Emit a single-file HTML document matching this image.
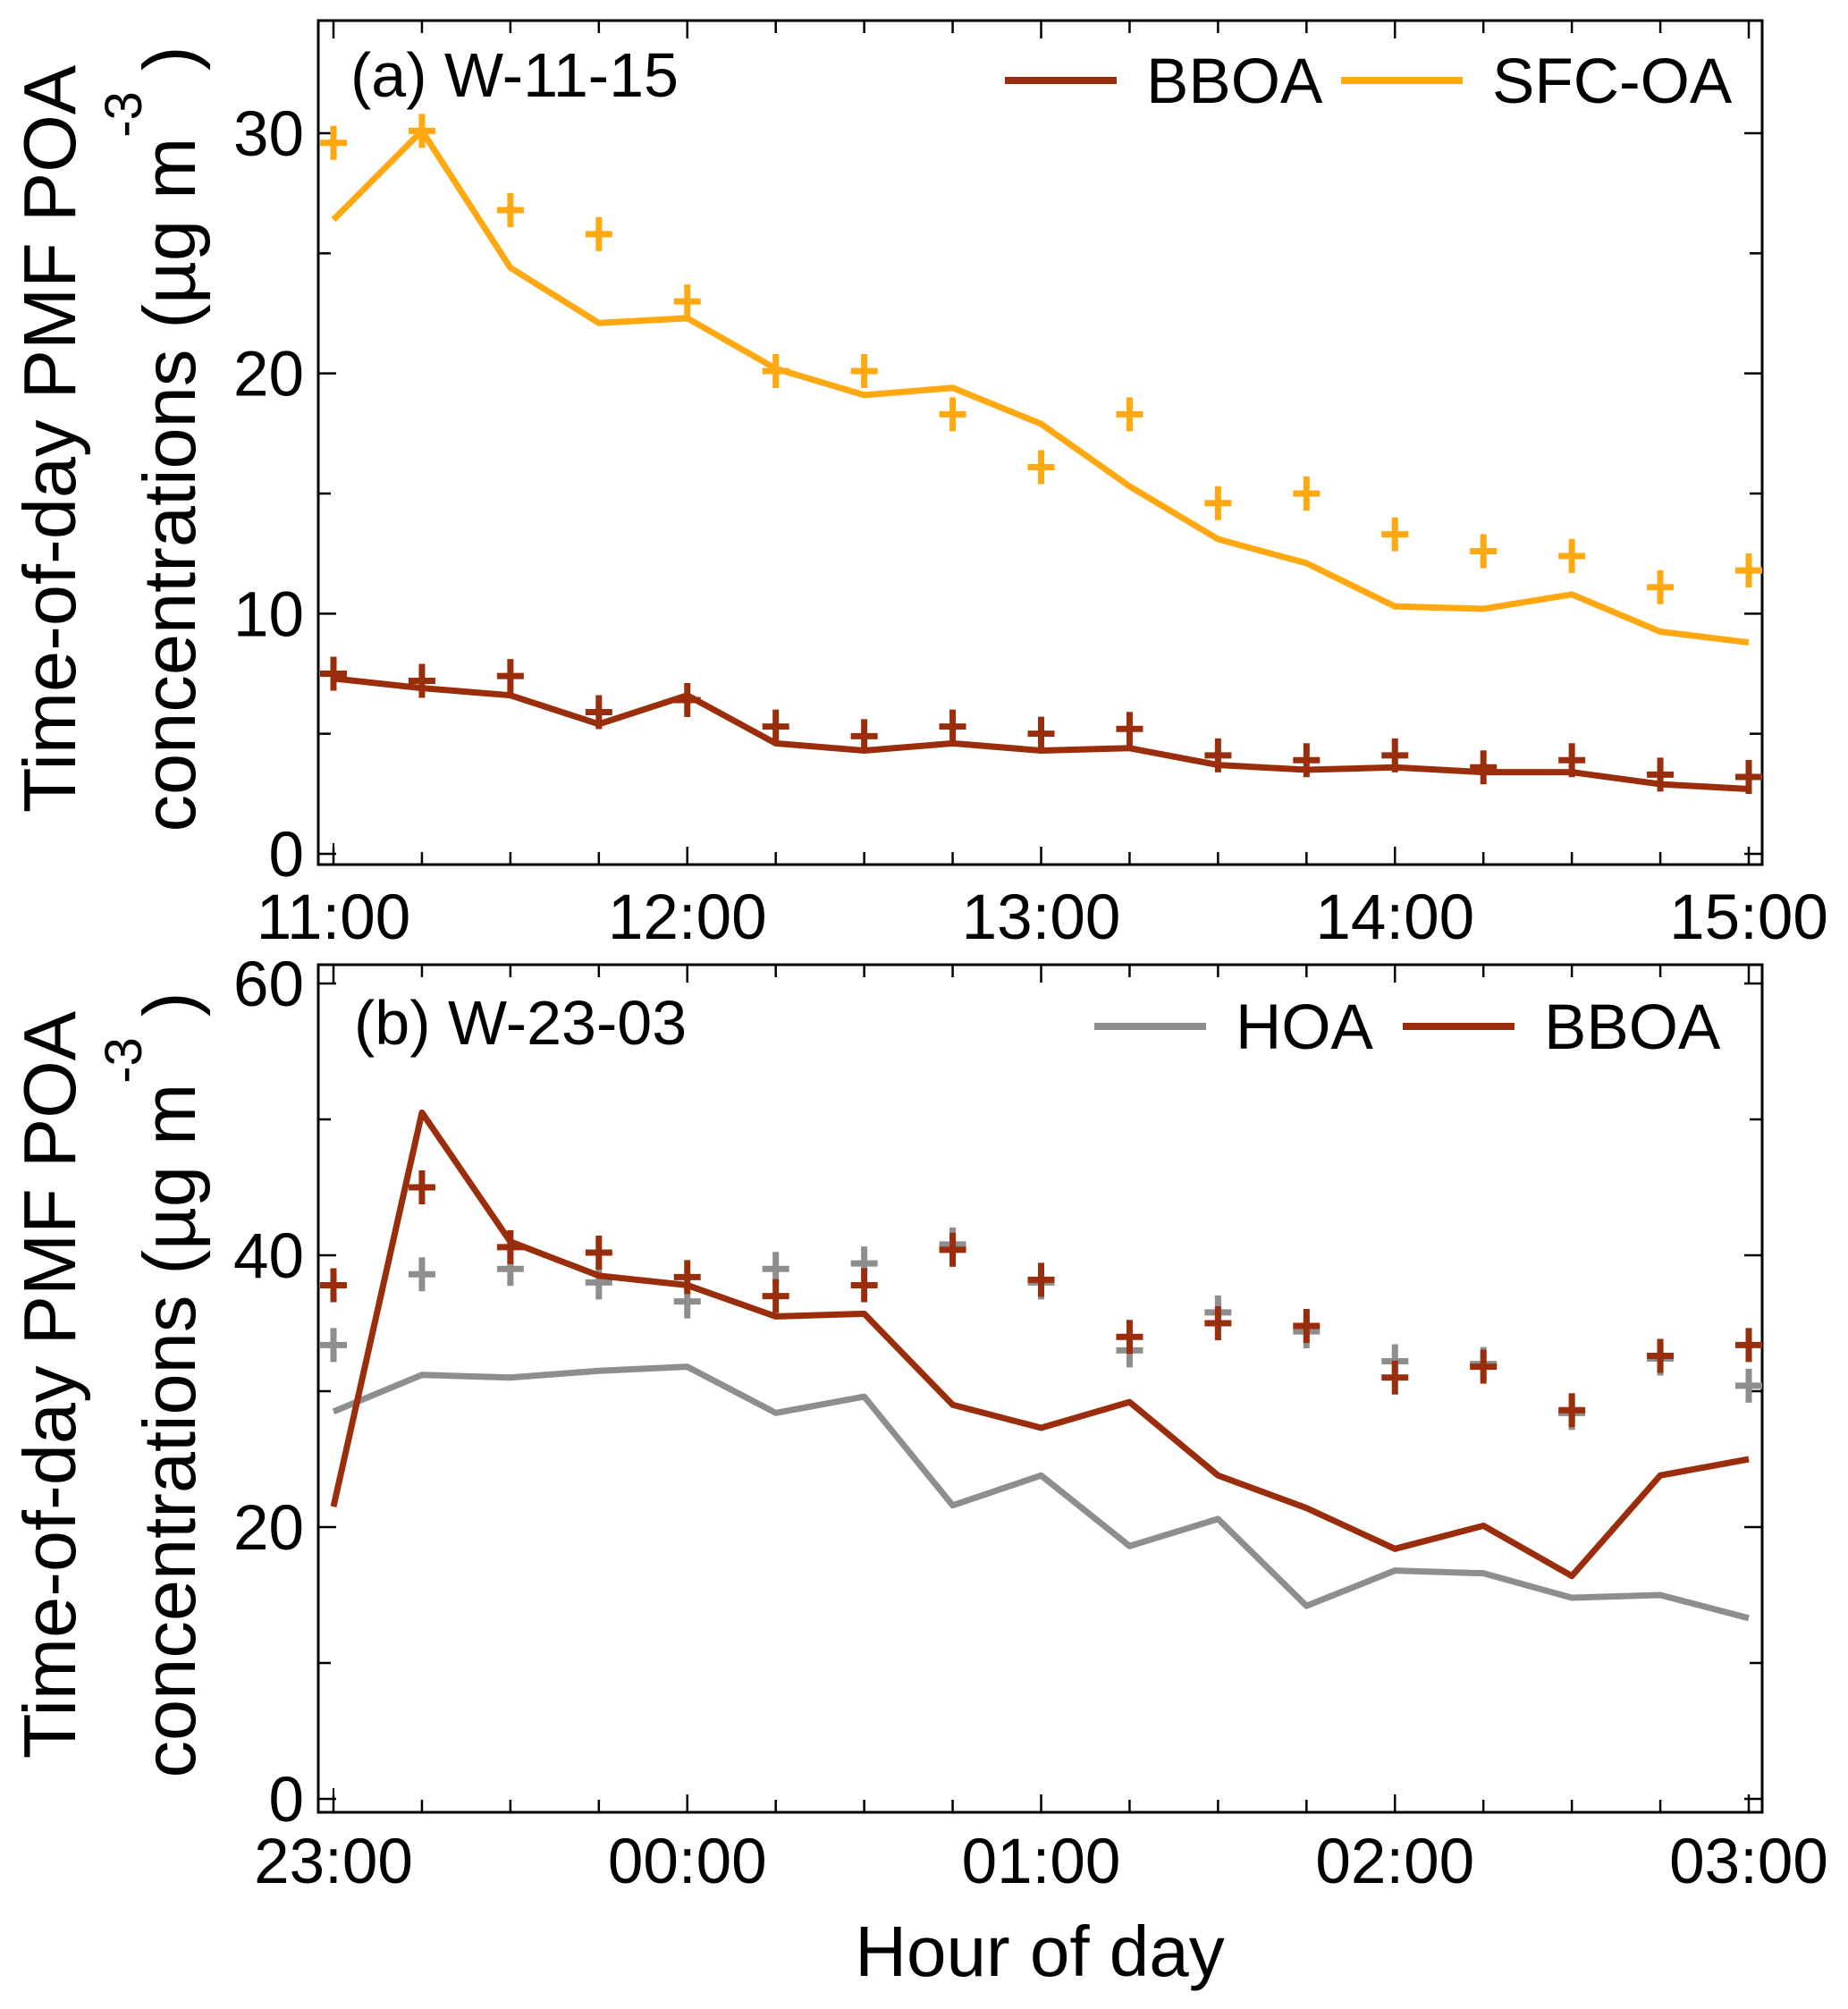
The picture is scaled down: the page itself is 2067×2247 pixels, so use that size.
<!DOCTYPE html>
<html><head><meta charset="utf-8"><style>
html,body{margin:0;padding:0;background:#fff;}
svg{display:block;font-family:"Liberation Sans",Arial,sans-serif;}
</style></head><body>
<svg id="chart" width="2067" height="2247" viewBox="0 0 2067 2247" xmlns="http://www.w3.org/2000/svg"></svg>
<script>
const xTicksA = ["11:00","12:00","13:00","14:00","15:00"];
const xTicksB = ["23:00","00:00","01:00","02:00","03:00"];
const yTicksA = [0,10,20,30];
const yTicksB = [0,20,40,60];
const aSfcLine = [26.4,30.1,24.4,22.1,22.3,20.2,19.1,19.4,17.9,15.3,13.1,12.1,10.3,10.2,10.8,9.25,8.8];
const aSfcPts  = [29.6,30.1,26.8,25.8,23.0,20.1,20.1,18.3,16.1,18.3,14.6,15.0,13.3,12.6,12.4,11.1,11.8];
const aBboaLine= [7.3,6.9,6.6,5.4,6.6,4.6,4.3,4.6,4.3,4.4,3.7,3.5,3.6,3.4,3.4,2.9,2.7];
const aBboaPts = [7.5,7.2,7.4,5.9,6.4,5.3,4.9,5.3,5.0,5.2,4.1,3.9,4.1,3.6,3.9,3.3,3.2];
const bBboaLine= [21.5,50.5,41,38.5,37.8,35.5,35.7,29,27.3,29.2,23.8,21.4,18.4,20.1,16.4,23.8,25];
const bHoaLine = [28.5,31.2,31,31.5,31.8,28.4,29.6,21.6,23.8,18.6,20.6,14.2,16.8,16.6,14.8,15.0,13.3];
const bBboaPts = [37.8,45,40.6,40.2,38.4,37,37.8,40.4,38.2,34,35,34.8,31,31.8,28.6,32.6,33.4];
const bHoaPts  = [33.4,38.6,39,38,36.6,39,39.4,40.8,38,33,35.8,34.4,32.2,32,28.4,32.4,30.4];

const NS="http://www.w3.org/2000/svg";
const svg=document.getElementById('chart');
function mk(tag,attrs,parent){const e=document.createElementNS(NS,tag);for(const k in attrs)e.setAttribute(k,attrs[k]);(parent||svg).appendChild(e);return e;}
const C_BB="#9a2e0c", C_SFC="#ffa812", C_HOA="#8e8e8e";
const X0=373, X1=1956;
function xs(i){return X0+(X1-X0)*i/16;}

function panel(cfg){
  const g=mk('g',{});
  
  
  const ys=v=>cfg.y0+(cfg.yTop-cfg.y0)*v/cfg.ymax;
  const f=mk('rect',{x:356,y:cfg.top,width:1615,height:cfg.bot-cfg.top,fill:'none',stroke:'#000','stroke-width':3},g);
  
  
  for(let i=0;i<=16;i++){
    const L=(i%4==0)?20:14;
    mk('line',{x1:xs(i),x2:xs(i),y1:cfg.bot,y2:cfg.bot-L,stroke:'#000','stroke-width':2.5},g);
    mk('line',{x1:xs(i),x2:xs(i),y1:cfg.top,y2:cfg.top+L,stroke:'#000','stroke-width':2.5},g);
  }
  for(let v=0;v<=cfg.ymax+0.01;v+=cfg.minor){
    const y=ys(v); if(y<cfg.top-1) continue;
    const major=Math.abs(v/cfg.major-Math.round(v/cfg.major))<1e-6;
    const L=major?20:14;
    mk('line',{x1:356,x2:356+L,y1:y,y2:y,stroke:'#000','stroke-width':2.5},g);
    mk('line',{x1:1971,x2:1971-L,y1:y,y2:y,stroke:'#000','stroke-width':2.5},g);
  }
  mk('line',{x1:X0,x2:X0,y1:cfg.y0-12,y2:cfg.y0+12,stroke:'#000','stroke-width':2},g);
  cfg.xTicks.forEach((t,i)=>{
    const e=mk('text',{x:xs(i*4),y:cfg.xLabY,'font-size':71,'text-anchor':'middle',fill:'#000'},g);
    e.textContent=t;
    
    
  });
  cfg.yTicks.forEach(v=>{
    const e=mk('text',{x:340,y:ys(v)+25,'font-size':71,'text-anchor':'end',fill:'#000'},g);
    e.textContent=v;
    
    
  });
  cfg.series.forEach(s=>{
    if(s.line){
      const p=mk('polyline',{points:s.data.map((v,i)=>xs(i)+','+ys(v)).join(' '),fill:'none',stroke:s.color,'stroke-width':7,'stroke-linejoin':'round'},g);
      
      
    } else {
      s.data.forEach((v,i)=>{
        const m=mk('path',{d:`M${xs(i)-15},${ys(v)}h30M${xs(i)},${ys(v)-19}v38`,stroke:s.color,'stroke-width':7,fill:'none'},g);
        
        
      });
    }
  });
  const pl=mk('text',{x:cfg.labX,y:cfg.labY,'font-size':70,fill:'#000'},g);
  pl.textContent=cfg.label;
  
  
  cfg.legend.forEach(l=>{
    const lg=mk('g',{},g);
    
    
    mk('line',{x1:l.x1,x2:l.x2,y1:l.y,y2:l.y,stroke:l.color,'stroke-width':8},lg);
    const t=mk('text',{x:l.tx,y:l.y+25,'font-size':71,fill:'#000'},lg);
    t.textContent=l.text;
  });
  const cy=(cfg.top+cfg.bot)/2-4;
  const t1=mk('text',{x:0,y:0,'font-size':83,'text-anchor':'middle',transform:`translate(84,${cy}) rotate(-90)`,fill:'#000'},g);
  t1.textContent='Time-of-day PMF POA';
  
  
  const t2=mk('text',{x:0,y:0,'font-size':83,'text-anchor':'middle',transform:`translate(218,${cy}) rotate(-90)`,fill:'#000'},g);
  
  
  const a=mk('tspan',{},t2); a.textContent='concentrations (µg m';
  const b=mk('tspan',{'font-size':58,dy:-60},t2); b.textContent='-3';
  const c=mk('tspan',{dy:60},t2); c.textContent=' )';
}

panel({name:'panel-a',top:23,bot:967,y0:955,yTop:149,ymax:30,major:10,minor:5,
  xTicks:xTicksA,yTicks:yTicksA,xLabY:1050,label:'(a) W-11-15',labX:392,labY:108,
  series:[{line:true,data:aSfcLine,color:C_SFC,name:'sfc-oa-line'},{line:false,data:aSfcPts,color:C_SFC,name:'sfc-oa-marker'},
          {line:true,data:aBboaLine,color:C_BB,name:'bboa-line'},{line:false,data:aBboaPts,color:C_BB,name:'bboa-marker'}],
  legend:[{x1:1124,x2:1249,y:90,tx:1282,color:C_BB,text:'BBOA'},{x1:1500,x2:1636,y:90,tx:1669,color:C_SFC,text:'SFC-OA'}]});
panel({name:'panel-b',top:1079,bot:2027,y0:2012,yTop:1100,ymax:60,major:20,minor:10,
  xTicks:xTicksB,yTicks:yTicksB,xLabY:2106,label:'(b) W-23-03',labX:396,labY:1168,
  series:[{line:true,data:bHoaLine,color:C_HOA,name:'hoa-line'},{line:false,data:bHoaPts,color:C_HOA,name:'hoa-marker'},
          {line:true,data:bBboaLine,color:C_BB,name:'bboa-line'},{line:false,data:bBboaPts,color:C_BB,name:'bboa-marker'}],
  legend:[{x1:1224,x2:1349,y:1148,tx:1382,color:C_HOA,text:'HOA'},{x1:1569,x2:1694,y:1148,tx:1727,color:C_BB,text:'BBOA'}]});

const xt=mk('text',{x:1163,y:2210,'font-size':80,'text-anchor':'middle',fill:'#000'});
xt.textContent='Hour of day';


</script>
</body></html>
